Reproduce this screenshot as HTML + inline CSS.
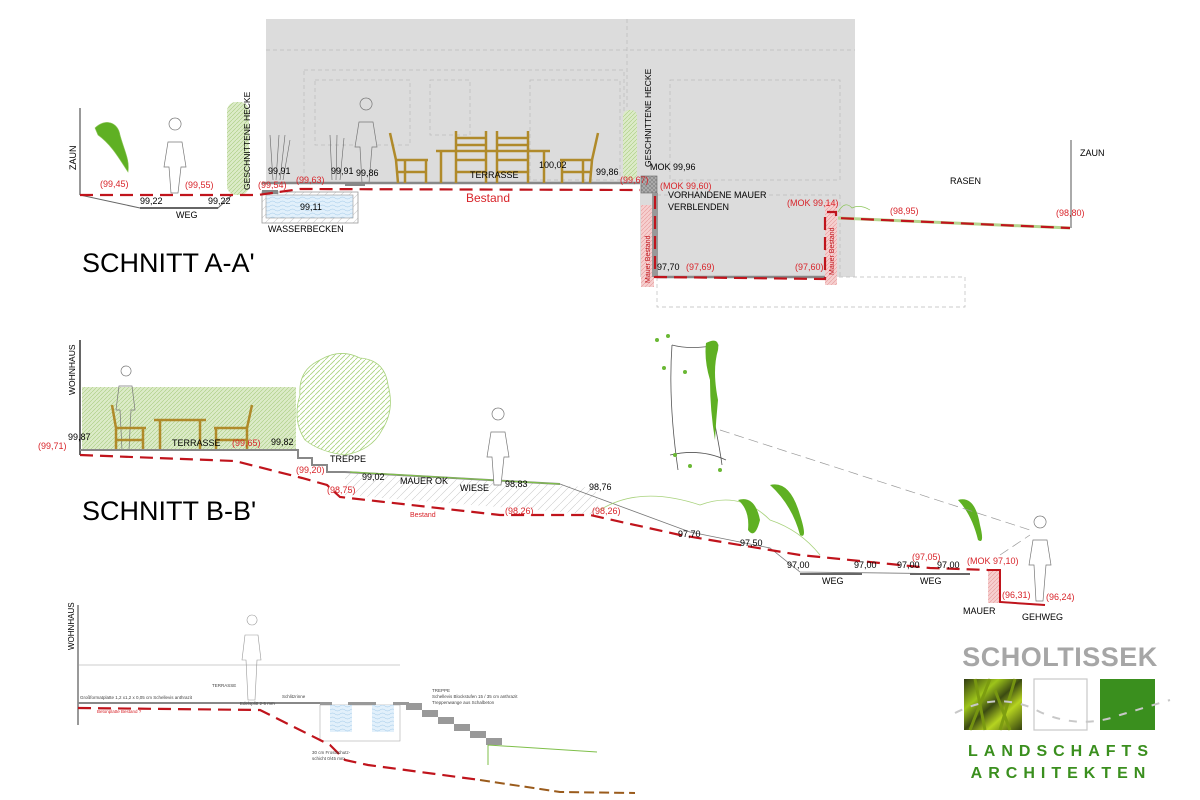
<!DOCTYPE html>
<html><head><meta charset="utf-8"><style>
html,body{margin:0;padding:0;background:#fff;}
svg{display:block;font-family:"Liberation Sans",sans-serif;}
</style></head><body>
<svg width="1200" height="800" viewBox="0 0 1200 800" xmlns="http://www.w3.org/2000/svg">
<defs>
<pattern id="hg" width="4" height="4" patternUnits="userSpaceOnUse"><rect width="4" height="4" fill="#dcebc8"/><path d="M0 4L4 0" stroke="#a8cc7e" stroke-width="0.6"/></pattern>
<pattern id="hb" width="5" height="5" patternUnits="userSpaceOnUse"><rect width="5" height="5" fill="#fff"/><path d="M0 5L5 0" stroke="#a8d27c" stroke-width="0.8"/></pattern>
<pattern id="hp" width="4" height="4" patternUnits="userSpaceOnUse"><rect width="4" height="4" fill="#f6cfcf"/><path d="M0 4L4 0" stroke="#e69a9a" stroke-width="0.6"/></pattern>
<pattern id="hx" width="4" height="4" patternUnits="userSpaceOnUse"><rect width="4" height="4" fill="#aaa"/><path d="M0 0L4 4M0 4L4 0" stroke="#777" stroke-width="0.5"/></pattern>
<pattern id="hl" width="8" height="8" patternUnits="userSpaceOnUse"><path d="M0 8L8 0" stroke="#ccc" stroke-width="0.6"/></pattern>
<pattern id="wt" width="10" height="4" patternUnits="userSpaceOnUse"><rect width="10" height="4" fill="#e2f0fb"/><path d="M0 2Q2.5 0 5 2T10 2" stroke="#9cc6e8" fill="none" stroke-width="0.5"/></pattern>
<linearGradient id="grass" x1="0" y1="0" x2="1" y2="1"><stop offset="0" stop-color="#2f3a10"/><stop offset="0.3" stop-color="#9dc41a"/><stop offset="0.5" stop-color="#3b4a12"/><stop offset="0.7" stop-color="#b6d420"/><stop offset="1" stop-color="#34420f"/></linearGradient>
</defs>

<!-- ===== SCHNITT A-A' ===== -->
<rect x="266" y="19" width="589" height="164" fill="#dcdcdc"/>
<rect x="640" y="183" width="215" height="94" fill="#dcdcdc"/>
<g fill="none" stroke="#bbb" stroke-width="0.7" stroke-dasharray="4,3">
<line x1="266" y1="50" x2="855" y2="50"/><line x1="627" y1="19" x2="627" y2="183"/>
<rect x="304" y="70" width="320" height="113"/><rect x="315" y="80" width="95" height="65"/><rect x="430" y="80" width="40" height="55"/>
<rect x="530" y="80" width="90" height="100"/><rect x="670" y="80" width="170" height="100"/>
<rect x="657" y="277" width="308" height="30"/><line x1="840" y1="195" x2="840" y2="277"/><line x1="657" y1="195" x2="840" y2="195"/>
</g>
<line x1="80" y1="108" x2="80" y2="195" stroke="#333" stroke-width="1"/>
<text x="76" y="170" font-size="9" transform="rotate(-90 76 170)">ZAUN</text>
<path d="M95 128C105 118 118 122 120 135C124 150 130 160 128 172C120 160 112 145 98 135Z" fill="#5fb023" stroke="#8cc55a" stroke-width="0.6"/>
<path d="M80 195L140 208L218 208L232 195" fill="none" stroke="#666" stroke-width="1"/>
<line x1="140" y1="208" x2="218" y2="208" stroke="#666" stroke-width="2"/>
<rect x="227" y="102" width="22" height="93" rx="9" fill="url(#hg)"/>
<text x="250" y="190" font-size="8.5" transform="rotate(-90 250 190)">GESCHNITTENE HECKE</text>
<path d="M175 130a6 6 0 1 1 0.1 0M168 142h14l4 25h-5l-3 26h-7l-2-26h-5z" fill="#fff" stroke="#777" stroke-width="0.7"/>
<rect x="262" y="192" width="96" height="31" fill="url(#hl)" stroke="#999" stroke-width="0.8"/>
<rect x="266" y="195" width="87" height="23" fill="url(#wt)" stroke="#999" stroke-width="0.6"/>
<rect x="262" y="190" width="16" height="4" fill="#888"/><rect x="345" y="182" width="20" height="4" fill="#888"/>
<g stroke="#666" stroke-width="0.6" fill="none"><path d="M273 180L270 135M276 180L279 135M280 180L285 135M283 180L290 140M332 180L330 135M336 180L337 135M340 180L344 138"/></g>
<path d="M366 110a6 6 0 1 1 0.1 0M359 122h14l4 25h-5l-3 36h-7l-2-36h-5z" fill="#dcdcdc" stroke="#777" stroke-width="0.7"/>
<line x1="262" y1="183" x2="640" y2="183" stroke="#888" stroke-width="2.5"/>
<g fill="none" stroke="#b08a2a" stroke-width="2.5">
<path d="M390 133L396 160L398 183M396 160H428M426 160V183M405 160V183M398 172H426"/>
<path d="M436 151H550M441 151V183M544 151V183"/>
<path d="M456 131V183M486 131V183M456 138H486M456 145H486M456 160H486M456 172H486"/>
<path d="M497 131V183M528 131V183M497 138H528M497 145H528M497 160H528M497 172H528"/>
<path d="M598 133L592 160L590 183M592 160H560M562 160V183M583 160V183M590 172H562"/>
</g>
<rect x="623" y="110" width="14" height="70" rx="6" fill="url(#hg)"/>
<text x="651" y="167" font-size="8.5" transform="rotate(-90 651 167)">GESCHNITTENE HECKE</text>
<rect x="641" y="205" width="13" height="82" fill="url(#hp)"/>
<rect x="641" y="176" width="16" height="17" fill="url(#hx)" stroke="#666" stroke-width="0.6"/>
<rect x="652" y="193" width="6" height="84" fill="#999"/>
<line x1="657" y1="277" x2="825" y2="277" stroke="#888" stroke-width="2.5"/>
<rect x="825" y="202" width="12" height="83" fill="url(#hp)"/>
<path d="M838 212Q845 200 852 208Q860 204 870 210" fill="none" stroke="#8cc55a" stroke-width="0.7"/>
<line x1="838" y1="218" x2="1070" y2="228" stroke="#b6d48f" stroke-width="3"/>
<line x1="1071" y1="140" x2="1071" y2="228" stroke="#555" stroke-width="1"/>
<g fill="none" stroke="#c0141c" stroke-width="2.2" stroke-dasharray="13,7">
<path d="M80 195L258 195L300 189L640 190"/>
<path d="M655 196V277L825 279V212H836V218L1070 228"/>
</g>
<g font-size="9" fill="#000">
<text x="140" y="204">99,22</text><text x="208" y="204">99,22</text><text x="176" y="218">WEG</text>
<text x="268" y="232">WASSERBECKEN</text><text x="300" y="210">99,11</text>
<text x="268" y="174">99,91</text><text x="331" y="174">99,91</text><text x="356" y="176">99,86</text>
<text x="470" y="178">TERRASSE</text><text x="539" y="168">100,02</text><text x="596" y="175">99,86</text>
<text x="650" y="170">MOK 99,96</text>
<text x="668" y="198">VORHANDENE MAUER</text><text x="668" y="210">VERBLENDEN</text>
<text x="657" y="270">97,70</text><text x="950" y="184">RASEN</text><text x="1080" y="156">ZAUN</text>
</g>
<g font-size="9" fill="#d8242a">
<text x="100" y="187">(99,45)</text><text x="185" y="188">(99,55)</text><text x="258" y="188">(99,54)</text><text x="296" y="183">(99,63)</text>
<text x="620" y="183">(99,67)</text><text x="660" y="189">(MOK 99,60)</text><text x="787" y="206">(MOK 99,14)</text>
<text x="686" y="270">(97,69)</text><text x="795" y="270">(97,60)</text><text x="890" y="214">(98,95)</text><text x="1056" y="216">(98,80)</text>
<text x="466" y="202" font-size="12">Bestand</text>
</g>
<text x="650" y="283" font-size="7" fill="#c0141c" transform="rotate(-90 650 283)">Mauer Bestand</text>
<text x="834" y="275" font-size="7" fill="#c0141c" transform="rotate(-90 834 275)">Mauer Bestand</text>
<text x="82" y="272" font-size="27">SCHNITT A-A'</text>

<!-- ===== SCHNITT B-B' ===== -->
<line x1="80" y1="340" x2="80" y2="455" stroke="#000" stroke-width="1.2"/>
<text x="75" y="395" font-size="8.5" transform="rotate(-90 75 395)">WOHNHAUS</text>
<rect x="82" y="387" width="214" height="63" fill="url(#hg)"/>
<path d="M300 395Q298 370 320 360Q340 348 360 358Q385 360 388 385Q395 410 382 430Q372 450 345 455Q320 452 305 440Q292 420 300 395Z" fill="url(#hb)" stroke="#a8d27c" stroke-width="0.8"/>
<path d="M126 376a5 5 0 1 1 0.1 0M119 386h13l3 24h-4l-2 40h-7l-2-40h-4z" fill="none" stroke="#777" stroke-width="0.7"/>
<g fill="none" stroke="#b08a2a" stroke-width="2.5">
<path d="M112 405L116 428V450M116 428H146M143 428V450M116 440H143"/>
<path d="M154 420H206M160 420V450M200 420V450"/>
<path d="M252 405L247 428V450M247 428H214M216 428V450M247 440H216"/>
</g>
<path d="M80 450H298V458H312V465H327V472H345M345 472L560 484" fill="none" stroke="#888" stroke-width="2"/>
<line x1="350" y1="472" x2="560" y2="484" stroke="#7fbf4a" stroke-width="1.2"/>
<path d="M345 473L560 485L595 488L600 515L345 495Z" fill="url(#hl)"/>
<path d="M560 484L690 532L770 548L800 572L970 574" fill="none" stroke="#777" stroke-width="0.8"/>
<line x1="800" y1="574" x2="862" y2="574" stroke="#666" stroke-width="2"/><line x1="910" y1="574" x2="970" y2="574" stroke="#666" stroke-width="2"/>
<path d="M498 420a6 6 0 1 1 0.1 0M491 432h14l4 25h-5l-3 28h-7l-2-28h-5z" fill="#fff" stroke="#777" stroke-width="0.7"/>
<path d="M672 345Q690 350 718 345Q710 380 714 420Q720 450 722 465M672 345Q668 400 678 470M670 455Q700 448 726 460" fill="none" stroke="#555" stroke-width="0.8"/>
<path d="M706 343Q720 336 718 350Q712 370 718 400Q716 420 715 440Q710 410 710 380Q704 360 706 343Z" fill="#5fb023"/>
<g fill="#6ab834"><circle cx="657" cy="340" r="2"/><circle cx="668" cy="336" r="2"/><circle cx="664" cy="368" r="2"/><circle cx="685" cy="372" r="2"/><circle cx="675" cy="455" r="2"/><circle cx="690" cy="466" r="2"/><circle cx="720" cy="470" r="2"/></g>
<path d="M600 510Q640 485 700 505Q740 490 770 520Q800 530 820 555" fill="none" stroke="#a8d27c" stroke-width="0.8"/>
<g fill="#5fb023"><path d="M738 500Q755 495 760 520Q755 540 748 530Q750 510 738 500Z"/><path d="M770 485Q790 480 800 515Q808 540 800 535Q792 505 770 485Z"/><path d="M958 500Q975 495 980 525Q985 545 978 540Q972 515 958 500Z"/></g>
<g fill="none" stroke="#999" stroke-width="0.7" stroke-dasharray="10,5"><path d="M720 430L1030 530M1000 555L1030 535"/></g>
<path d="M1040 528a6 6 0 1 1 0.1 0M1033 540h14l4 25h-5l-3 36h-7l-2-36h-5z" fill="#fff" stroke="#777" stroke-width="0.7"/>
<rect x="988" y="571" width="12" height="32" fill="url(#hp)"/>
<line x1="1000" y1="602" x2="1045" y2="605" stroke="#888" stroke-width="1.5"/>
<g fill="none" stroke="#c0141c" stroke-width="2.2" stroke-dasharray="13,7">
<path d="M80 455L235 461L302 478L327 485L340 497L500 515L590 515L680 535L800 555L930 568L988 570"/>
</g>
<path d="M988 570H1000V602L1045 605" fill="none" stroke="#c0141c" stroke-width="2"/>
<g font-size="9" fill="#000">
<text x="68" y="440">99,87</text><text x="172" y="446">TERRASSE</text><text x="271" y="445">99,82</text>
<text x="330" y="462">TREPPE</text><text x="362" y="480">99,02</text><text x="400" y="484">MAUER OK</text><text x="460" y="491">WIESE</text>
<text x="505" y="487">98,83</text><text x="589" y="490">98,76</text>
<text x="678" y="537">97,70</text><text x="740" y="546">97,50</text>
<text x="787" y="568">97,00</text><text x="854" y="568">97,00</text><text x="897" y="568">97,00</text><text x="937" y="568">97,00</text>
<text x="822" y="584">WEG</text><text x="920" y="584">WEG</text><text x="963" y="614">MAUER</text><text x="1022" y="620">GEHWEG</text>
</g>
<g font-size="9" fill="#d8242a">
<text x="38" y="449">(99,71)</text><text x="232" y="446">(99,65)</text><text x="296" y="473">(99,20)</text><text x="327" y="493">(98,75)</text>
<text x="410" y="517" font-size="7">Bestand</text><text x="505" y="514">(98,26)</text><text x="592" y="514">(98,26)</text>
<text x="912" y="560">(97,05)</text><text x="967" y="564">(MOK 97,10)</text><text x="1002" y="598">(96,31)</text><text x="1046" y="600">(96,24)</text>
</g>
<text x="82" y="520" font-size="27">SCHNITT B-B'</text>

<!-- ===== third section ===== -->
<line x1="78" y1="605" x2="78" y2="725" stroke="#333" stroke-width="1"/>
<text x="74" y="650" font-size="8" transform="rotate(-90 74 650)">WOHNHAUS</text>
<line x1="78" y1="665" x2="400" y2="665" stroke="#999" stroke-width="0.6"/>
<path d="M252 625a5 5 0 1 1 0.1 0M245 635h13l3 25h-4l-2 40h-7l-2-40h-4z" fill="none" stroke="#999" stroke-width="0.6"/>
<line x1="78" y1="703" x2="330" y2="703" stroke="#888" stroke-width="2"/>
<rect x="320" y="705" width="80" height="36" fill="none" stroke="#aaa" stroke-width="0.6"/>
<rect x="330" y="705" width="22" height="27" fill="url(#wt)"/><rect x="372" y="705" width="22" height="27" fill="url(#wt)"/>
<g fill="#999"><rect x="320" y="702" width="12" height="3"/><rect x="348" y="702" width="28" height="3"/><rect x="393" y="702" width="16" height="3"/>
<rect x="406" y="703" width="16" height="7"/><rect x="422" y="710" width="16" height="7"/><rect x="438" y="717" width="16" height="7"/><rect x="454" y="724" width="16" height="7"/><rect x="470" y="731" width="16" height="7"/><rect x="486" y="738" width="16" height="7"/></g>
<path d="M488 745L488 765M488 745L597 752" fill="none" stroke="#7fbf4a" stroke-width="1"/>
<path d="M78 708L260 710L330 745L345 760L368 765L480 780" fill="none" stroke="#c0141c" stroke-width="2.2" stroke-dasharray="13,7"/>
<path d="M480 780L560 792L635 793" fill="none" stroke="#9a5b1c" stroke-width="2" stroke-dasharray="10,5"/>
<g font-size="4.5" fill="#444">
<text x="212" y="687">TERRASSE</text><text x="80" y="699">Großformatplatte 1,2 x1,2 x 0,05 cm Schellevis anthrazit</text>
<text x="240" y="705">Edelsplitt 2-5 mm</text><text x="282" y="698">Schlitzrinne</text>
<text x="432" y="692">TREPPE</text><text x="432" y="698">Schellevis Blockstufen 15 / 35 cm anthrazit</text><text x="432" y="704">Treppenwange aus Schalbeton</text>
<text x="312" y="754">30 cm Frostschutz-</text><text x="312" y="760">schicht 0/45 mm</text>
</g>
<text x="97" y="713" font-size="4.5" fill="#d8242a">Betonplatte Bestand ?</text>

<!-- ===== logo ===== -->
<text x="1060" y="666" font-size="27" font-weight="bold" fill="#a6a6a6" text-anchor="middle" letter-spacing="0.5">SCHOLTISSEK</text>
<rect x="964" y="679" width="58" height="51" fill="url(#grass)"/>
<g stroke="#7a9a10" stroke-width="3" opacity="0.9"><path d="M970 730L990 679M985 730L975 679M1000 730L1015 679M1010 730L995 690"/></g>
<rect x="1034" y="679" width="53" height="51" fill="#fff" stroke="#c8c8c8" stroke-width="1.2"/>
<rect x="1100" y="679" width="55" height="51" fill="#3a8f1e"/>
<path d="M955 713Q1000 690 1040 712Q1080 730 1120 715L1170 700" fill="none" stroke="#c8c8c8" stroke-width="2" stroke-dasharray="8,9"/>
<text x="1061" y="756" font-size="16" font-weight="bold" fill="#3a8f1e" text-anchor="middle" letter-spacing="6">LANDSCHAFTS</text>
<text x="1061" y="778" font-size="16" font-weight="bold" fill="#3a8f1e" text-anchor="middle" letter-spacing="6">ARCHITEKTEN</text>
</svg>
</body></html>
